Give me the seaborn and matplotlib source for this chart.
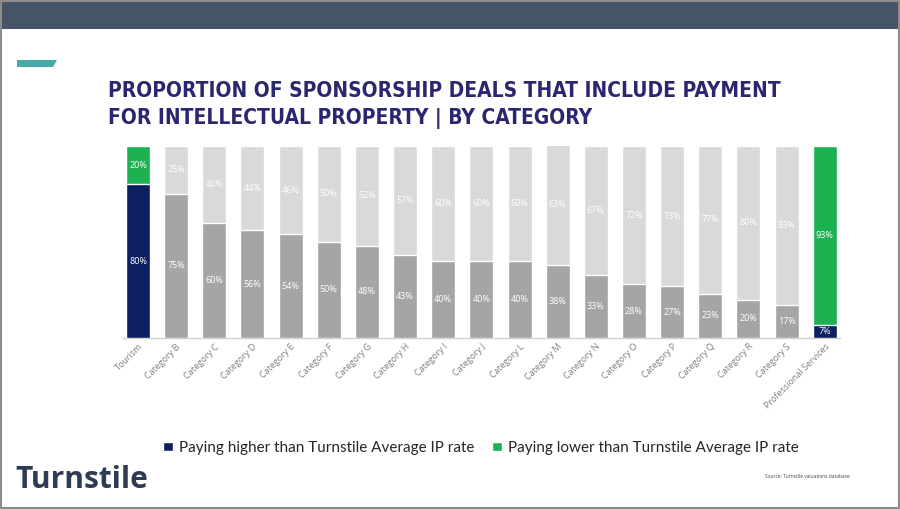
import matplotlib
matplotlib.use('Agg')
import matplotlib.pyplot as plt
from matplotlib.patches import Patch, Rectangle, Polygon
import seaborn as sns
import pandas as pd

categories = ['Tourism', 'Category B', 'Category C', 'Category D', 'Category E', 'Category F',
              'Category G', 'Category H', 'Category I', 'Category J', 'Category L', 'Category M',
              'Category N', 'Category O', 'Category P', 'Category Q', 'Category R', 'Category S',
              'Professional Services']
higher = [80, 75, 60, 56, 54, 50, 48, 43, 40, 40, 40, 38, 33, 28, 27, 23, 20, 17, 7]
lower = [20, 25, 40, 44, 46, 50, 52, 57, 60, 60, 60, 63, 67, 72, 73, 77, 80, 83, 93]

NAVY = '#0c1f5f'
GREEN = '#1eb152'
DARK_GREY = '#a5a5a5'
LIGHT_GREY = '#d9d9d9'
special = ['Tourism', 'Professional Services']

df = pd.DataFrame({'Category': categories, 'Higher': higher, 'Lower': lower})
df['Total'] = df['Higher'] + df['Lower']

top_pal = {c: (GREEN if c in special else LIGHT_GREY) for c in categories}
bot_pal = {c: (NAVY if c in special else DARK_GREY) for c in categories}

sns.set_style('white')
plt.rcParams['font.family'] = ['Open Sans', 'DejaVu Sans']

fig = plt.figure(figsize=(9, 5.09), dpi=100)
fig.patch.set_facecolor('white')

# slide decoration
fig.patches.append(Rectangle((0, 1 - 29 / 509), 1, 29 / 509, transform=fig.transFigure,
                             facecolor='#465468', edgecolor='none', zorder=0))
fig.patches.append(Polygon([(17 / 900, 1 - 60 / 509), (57 / 900, 1 - 60 / 509),
                            (53 / 900, 1 - 67 / 509), (17 / 900, 1 - 67 / 509)],
                           closed=True, transform=fig.transFigure,
                           facecolor='#45a9a7', edgecolor='none'))
fig.patches.append(Rectangle((0.001, 0.002), 0.998, 0.996, transform=fig.transFigure,
                             facecolor='none', edgecolor='#8c8c8c', linewidth=1.5, zorder=5))

ax = fig.add_axes([122 / 900, 1 - 338 / 509, (840 - 122) / 900, (338 - 146) / 509])

sns.barplot(data=df, x='Category', y='Total', hue='Category', palette=top_pal,
            width=0.63, legend=False, ax=ax, saturation=1)
sns.barplot(data=df, x='Category', y='Higher', hue='Category', palette=bot_pal,
            width=0.63, legend=False, ax=ax, saturation=1)

n = len(categories)
top_bars = ax.patches[:n]
bot_bars = ax.patches[n:]
for b in ax.patches:
    b.set_clip_on(True)
    b.set_clip_box(ax.bbox)
for b in bot_bars:
    b.set_zorder(3)

for b, v in zip(top_bars, lower):
    y = b.get_y() + b.get_height() - v / 2
    ax.text(b.get_x() + b.get_width() / 2, y, f'{v}%', ha='center', va='center',
            fontsize=6.5, color='white', zorder=4)
for b, v in zip(bot_bars, higher):
    ax.text(b.get_x() + b.get_width() / 2, v / 2, f'{v}%', ha='center', va='center',
            fontsize=6.5, color='white', zorder=4)

ax.set_ylim(0, 100)
ax.set_xlim(-0.42, 18.4)
ax.set_ylabel('')
ax.set_xlabel('')
ax.set_yticks([])
for s in ['top', 'right', 'left']:
    ax.spines[s].set_visible(False)
ax.spines['bottom'].set_color('#d0d0d0')
ax.spines['bottom'].set_linewidth(1)
ax.tick_params(axis='x', length=0, pad=3)
ax.set_xticks(range(n))
ax.set_xticklabels(categories, rotation=45, ha='right', rotation_mode='anchor',
                   fontsize=6.5, color='#7f7f7f')

fig.text(108 / 900, 1 - 81 / 509,
         'PROPORTION OF SPONSORSHIP DEALS THAT INCLUDE PAYMENT\nFOR INTELLECTUAL PROPERTY | BY CATEGORY',
         ha='left', va='top', fontsize=15, fontweight='bold', color='#2b2670',
         family='DejaVu Sans', fontstretch='condensed', linespacing=1.45)

handles = [Patch(facecolor=NAVY, label='Paying higher than Turnstile Average IP rate'),
           Patch(facecolor=GREEN, label='Paying lower than Turnstile Average IP rate')]
fig.legend(handles=handles, loc='center', bbox_to_anchor=(481 / 900, 1 - 448 / 509), ncol=2,
           frameon=False, handlelength=0.6, handleheight=0.6, handletextpad=0.4,
           columnspacing=1.2, labelcolor='#262626',
           prop={'family': 'Lato', 'size': 11})

fig.text(15 / 900, 1 - 480 / 509, 'Turnstile', ha='left', va='center', fontsize=21.5,
         fontweight='bold', color='#2f3b52')
fig.text(850 / 900, 1 - 476 / 509, 'Source: Turnstile valuations database', ha='right',
         va='center', fontsize=3.5, color='#404040')

fig.savefig('out.png', dpi=100)
